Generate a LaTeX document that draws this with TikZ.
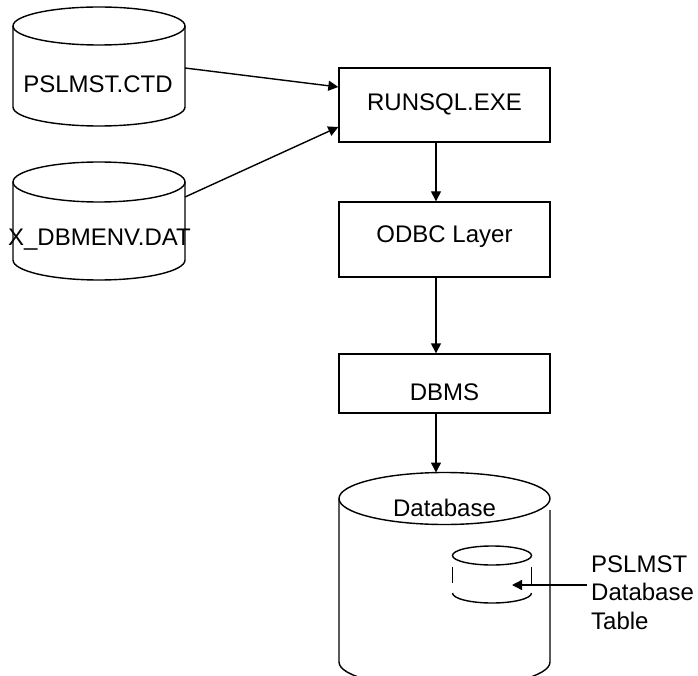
\documentclass[tikz,border=0pt]{standalone}
\usepackage{fontspec}
\setmainfont{Liberation Sans}
\usetikzlibrary{arrows.meta}

\begin{document}
\begin{tikzpicture}[x=1pt,y=-1pt,
    every node/.style={font=\fontsize{24}{28.5}\selectfont},
    stroke/.style={line width=1.4pt},
    procbox/.style={stroke, draw, minimum width=211pt, inner sep=0pt, text depth=0pt},
    arr/.style={stroke, -{Triangle[length=10pt,width=10pt]}}]
  \useasboundingbox (0,0) rectangle (698,676);

  % file cylinders on the left
  \draw[stroke] (99,26) ellipse [x radius=86pt, y radius=19pt];
  \draw[stroke] (13,26) -- (13,107) arc[start angle=180, end angle=360, x radius=86pt, y radius=19pt] -- (185,26);
  \node[anchor=base] (ctdtext) at (98,93) {PSLMST.CTD};

  \draw[stroke] (99,182) ellipse [x radius=86pt, y radius=20pt];
  \draw[stroke] (13,182) -- (13,260) arc[start angle=180, end angle=360, x radius=86pt, y radius=20pt] -- (185,182);
  \node[anchor=base] (dattext) at (99.5,245) {X\_DBMENV.DAT};

  \coordinate (ctdout) at (185,68);
  \coordinate (datout) at (185,197);

  % processing chain
  \node[procbox, minimum height=74pt, text height=12pt] (runsql) at (444.5,105) {RUNSQL.EXE};
  \node[procbox, minimum height=75pt, text height=7pt] (odbc) at (444.5,239.5) {ODBC Layer};
  \node[procbox, minimum height=59pt, text height=33pt] (dbms) at (444.5,383.5) {DBMS};

  \draw[arr] (ctdout) -- ([yshift=18pt]runsql.west);
  \draw[arr] (datout) -- ([yshift=-22pt]runsql.west);
  \draw[arr] ([xshift=-8.5pt]runsql.south) -- ([xshift=-8.5pt]odbc.north);
  \draw[arr] ([xshift=-8.5pt]odbc.south) -- ([xshift=-8.5pt]dbms.north);

  % database cylinder
  \coordinate (dbtop) at (436,472.5);
  \draw[stroke] (444.5,498.5) ellipse [x radius=105.5pt, y radius=26pt];
  \draw[stroke] (339,498.5) -- (339,662) arc[start angle=180, end angle=360, x radius=105.5pt, y radius=26pt] -- (550,510);
  \node[anchor=base] (dbtext) at (444.5,516) {Database};
  \draw[arr] ([xshift=-8.5pt]dbms.south) -- (dbtop);

  % table inside the database
  \draw[stroke] (492,555.5) ellipse [x radius=39.5pt, y radius=9.5pt];
  \draw[stroke] (452.5,567) -- (452.5,583);
  \draw[stroke] (531.5,567) -- (531.5,585);
  \draw[stroke] (452.5,593) arc[start angle=180, end angle=360, x radius=39.5pt, y radius=10pt];

  \node[anchor=north west, align=left, inner sep=0pt] (tbllabel) at (591,555.5) {PSLMST\\Database\\Table};
  \coordinate (lblout) at (587,585);
  \coordinate (tbltip) at (512,585);
  \draw[arr] (lblout) -- (tbltip);
\end{tikzpicture}
\end{document}
